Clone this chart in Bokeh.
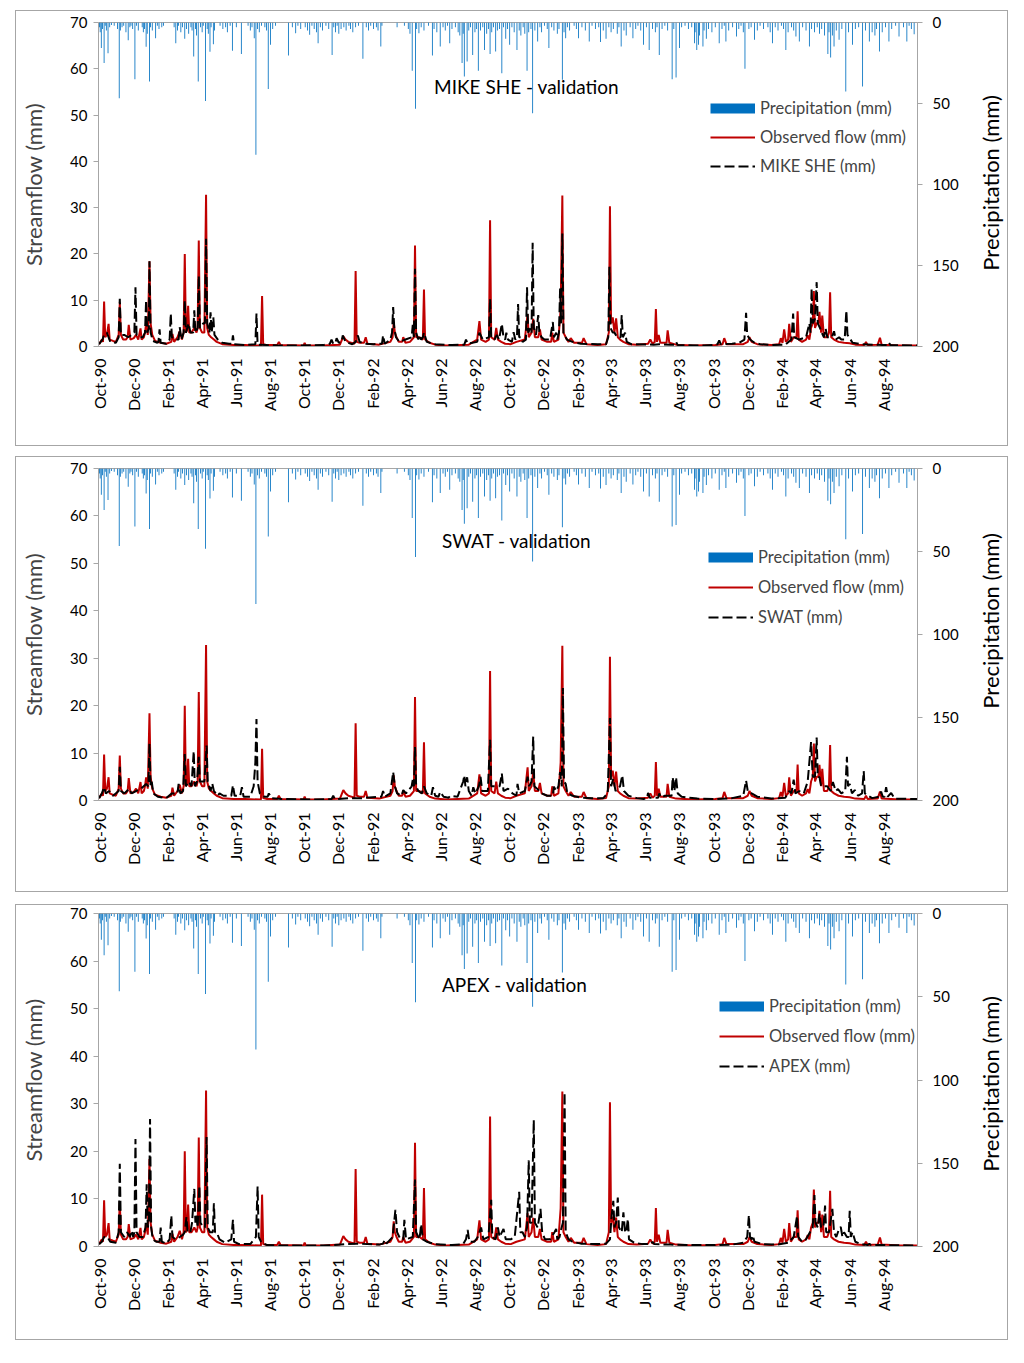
import math
import pandas as pd
from bokeh.plotting import figure
from bokeh.models import Range1d, LinearAxis, FixedTicker, Legend, LegendItem, Label, Spacer
from bokeh.layouts import column, row
from bokeh.embed import file_html
from bokeh.resources import INLINE

FONT = "Lato"
START = pd.Timestamp("1990-10-01")   # day 0 of the daily series

tick_labels = ["Oct-90", "Dec-90", "Feb-91", "Apr-91", "Jun-91", "Aug-91", "Oct-91", "Dec-91",
               "Feb-92", "Apr-92", "Jun-92", "Aug-92", "Oct-92", "Dec-92", "Feb-93", "Apr-93",
               "Jun-93", "Aug-93", "Oct-93", "Dec-93", "Feb-94", "Apr-94", "Jun-94", "Aug-94"]

# (day since 1 Oct 1990, precipitation mm)
precip = [(1,3),(2,6),(4,15.8),(6,4),(9,25),(11,2),(13,5),(16,19),(19,3),(22,1.5),(27,2),(33,4),(36,46.7),(38,5),
 (41,3),(44,2),(48,6),(52,11),(55,3),(57,2),(60,4),(64,35),(67,2),(70,5),(77,3),(79,6),(81,4),(84,15),(86,7),
 (90,36.4),(92,3),(95,5),(101,9.7),(104,2),(107,4),(112,3),(115,2),(134,3),(137,12.8),(140,5),(142,2),(146,6),
 (149,3),(153,10),(156,4),(160,7),(164,3),(166,5),(169,21),(172,4),(174,8),(177,36.4),(181,3),(184,6),(186,2),
 (190,48.4),(193,4),(195,7),(198,18),(200,3),(204,13.4),(206,5),(216,2),(221,4),(226,3),(229,6),(234,2),
 (238,17.5),(245,3),(254,19.5),(266,2),(270,5),(273,3),(277,9.7),(280,81.7),(283,4),(286,6),(290,2),(296,3),
 (299,5),(302,41),(306,13.8),(310,4),(315,2),(338,20.4),(345,3),(351,6.6),(355,2),(360,4),(368,3),(372,5),
 (376,7.6),(380,2),(384,4),(388,6),(391,12.8),(395,3),(399,5),(405,2),(410,4),(416,20),(419,3),(422,6),(425,2),
 (428,7),(432,4),(437,3),(441,5),(446,2),(449,4),(453,6),(458,3),(463,2),(471,22.4),(477,3),(481,5),(485,2),
 (490,4),(495,3),(498,5),(503,14.8),(505,2),(532,3),(545,2),(552,4),(555,7),(559,29.8),(565,53.3),(567,4),
 (571,6.6),(575,3),(580,5),(588,2),(595,20.4),(598,4),(603,6),(609,14.8),(614,3),(618,5),(622,2),(626,12.8),
 (630,4),(636,3),(641,6),(644,8),(648,25),(650,7),(652,33.3),(657,24),(660,5),(663,3),(667,20),(671,6),(674,4),
 (677,29.8),(681,5),(685,3),(688,16.9),(692,7),(695,4),(698,19.5),(701,6),(704,3),(708,17.9),(711,5),(715,4),
 (719,31.3),(722,3),(726,10),(729,4),(733,13.8),(737,3),(741,6),(746,16.9),(750,5),(753,8),(757,3),(760,7),
 (764,29.8),(767,6),(771,4),(774,56),(778,5),(783,11.7),(787,3),(790,6),(795,2),(800,4),(803,15.8),(808,3),
 (812,5),(818,7),(821,4),(827,35.4),(830,6),(833,9.7),(836,3),(840,5),(848,2),(852,4),(856,9.7),(862,3),(868,5),
 (875,11.7),(880,2),(886,4),(892,3),(895,12),(900,5),(905,10),(910,3),(914,6),(918,4),(925,7),(928,3),
 (932,14.8),(937,5),(941,8),(948,3),(953,9.7),(958,4),(962,2),(967,5),(972,13.8),(977,3),(982,16.9),(988,4),
 (993,6),(996,3),(1000,20),(1005,4),(1010,2),(1015,5),(1023,35),(1026,4),(1030,34),(1036,15.8),(1040,3),
 (1046,2),(1052,4),(1058,3),(1063,12.8),(1064,6),(1067,16.9),(1070,13.8),(1072,8),(1078,14.8),(1080,5),
 (1084,10),(1088,4),(1094,6),(1100,3),(1107,12.8),(1112,4),(1116,2),(1119,11.7),(1124,5),(1131,3),(1138,8.6),
 (1142,4),(1146,2),(1150,6),(1153,28.6),(1160,4),(1164,3),(1170,10.7),(1175,5),(1180,2),(1186,4),(1194,3),
 (1198,6),(1202,12.8),(1207,3),(1212,5),(1218,2),(1222,4),(1226,16.9),(1230,6),(1236,3),(1240,5),(1244,8.6),
 (1250,11.7),(1256,3),(1262,5),(1268,14.8),(1272,4),(1277,6),(1282,3),(1286,7),(1290,4),(1295,8),(1301,19.5),
 (1303,6),(1306,21.6),(1309,8),(1312,14.8),(1316,5),(1321,10.7),(1326,4),(1333,42.6),(1338,6),(1345,13.8),
 (1350,4),(1356,3),(1363,39.5),(1368,5),(1375,11.7),(1380,6),(1385,8),(1388,4),(1393,17.9),(1398,6),(1404,3),
 (1410,11.7),(1415,4),(1422,2),(1428,8.6),(1436,3),(1442,11.7),(1446,2),(1450,4),(1455,7.2)]

# (day, observed streamflow mm)
observed = [(0,0.5),(5,1.5),(7,1.0),(9,9.7),(11,2.0),(14,2.5),(17,4.9),(19,1.5),(25,1.2),(30,1.0),(35,2.5),(37,9.5),
 (39,2.5),(43,1.5),(48,1.5),(51,2.0),(53,4.7),(56,1.5),(62,1.8),(66,2.5),(70,1.5),(74,3.9),(76,1.5),(80,2.0),
 (82,3.0),(84,4.9),(87,2.5),(90,18.4),(92,5.0),(95,2.5),(100,1.2),(110,0.8),(120,0.6),(129,1.0),(131,2.7),
 (134,1.0),(140,2.0),(144,3.3),(148,1.5),(151,3.0),(153,20.0),(155,3.0),(157,3.5),(159,8.8),(161,3.0),(165,3.0),
 (170,4.0),(174,3.0),(176,4.0),(178,22.9),(180,4.0),(184,3.0),(188,3.0),(191,32.8),(193,4.0),(196,2.5),(200,2.0),
 (205,1.5),(210,1.0),(220,0.5),(240,0.3),(260,0.3),(289,0.2),(291,10.9),(293,0.5),(300,0.3),(318,0.3),(321,1.0),
 (324,0.3),(365,0.2),(367,0.8),(369,0.2),(400,0.2),(430,0.4),(436,2.2),(440,1.5),(445,1.0),(456,0.6),(458,16.3),
 (460,1.0),(465,0.8),(473,0.8),(476,2.0),(479,0.6),(500,0.4),(520,1.0),(524,2.0),(526,5.3),(528,3.0),(531,2.0),
 (535,1.0),(541,1.0),(543,2.0),(547,0.8),(555,1.0),(562,2.0),(564,21.8),(566,2.0),(572,2.0),(578,1.5),(580,12.3),
 (582,1.5),(590,0.8),(600,0.4),(620,0.2),(660,0.4),(675,1.5),(679,5.5),(682,1.5),(690,1.0),(696,1.5),(698,27.3),
 (700,2.0),(706,1.5),(709,4.0),(712,1.5),(718,1.0),(725,0.6),(735,0.5),(745,1.0),(760,1.5),(765,7.0),(767,2.0),
 (772,3.0),(775,6.0),(778,2.0),(784,2.0),(787,3.7),(790,1.5),(800,1.0),(807,1.0),(809,3.0),(812,1.0),(820,1.5),
 (824,8.0),(827,32.6),(829,3.0),(833,2.0),(838,1.0),(842,1.8),(848,0.8),(862,0.8),(865,1.8),(870,0.5),(890,0.3),
 (905,0.5),(910,3.0),(912,30.3),(914,5.0),(917,6.3),(920,3.0),(923,6.1),(926,2.0),(930,1.5),(936,1.0),(945,0.5),
 (960,0.4),(980,0.6),(984,1.5),(988,0.6),(992,1.0),(994,8.1),(996,1.0),(999,2.5),(1002,0.8),(1013,0.8),
 (1015,3.5),(1018,0.8),(1030,0.4),(1060,0.2),(1100,0.3),(1113,0.5),(1116,1.8),(1120,0.5),(1150,0.5),(1158,1.0),
 (1161,2.0),(1165,1.0),(1175,0.5),(1200,0.3),(1214,0.5),(1217,1.8),(1220,0.8),(1223,3.7),(1226,1.0),(1230,1.5),
 (1232,4.9),(1235,1.0),(1240,2.0),(1245,2.0),(1247,7.6),(1249,1.5),(1255,1.0),(1262,1.5),(1265,2.4),(1268,1.5),
 (1271,4.0),(1274,5.0),(1276,12.0),(1278,4.0),(1281,5.0),(1284,5.0),(1286,7.5),(1289,3.0),(1291,6.7),(1294,2.0),
 (1300,2.0),(1303,3.0),(1305,11.7),(1307,2.0),(1312,1.5),(1320,1.0),(1330,0.8),(1340,0.7),(1350,0.4),(1366,0.3),
 (1369,1.0),(1372,0.3),(1390,0.4),(1394,1.9),(1397,0.4),(1430,0.2),(1460,0.2)]

# (day, simulated streamflow mm)
mike_she = [(0,0.5),(6,1.5),(9,2.5),(14,3.0),(20,1.0),(30,0.8),(35,2.0),(37,10.3),(39,2.5),(45,2.5),(52,2.0),
 (58,2.5),(63,3.0),(65,12.8),(67,2.5),(72,2.0),(78,2.0),(82,3.0),(84,10.0),(86,3.0),(89,4.0),(90,18.4),(92,3.0),
 (96,1.2),(104,0.8),(106,1.0),(108,3.7),(110,0.8),(120,0.6),(126,1.5),(128,7.1),(130,2.0),(136,1.5),(142,1.5),
 (144,4.2),(147,1.5),(151,3.0),(153,10.0),(155,3.0),(160,5.0),(163,3.0),(168,3.0),(170,7.8),(172,3.0),(176,4.0),
 (178,15.3),(180,4.0),(186,5.0),(189,5.0),(191,23.3),(193,5.0),(197,3.0),(199,7.4),(201,3.0),(204,6.3),(206,2.5),
 (212,1.5),(220,0.8),(232,0.6),(237,0.6),(239,2.4),(241,0.5),(260,0.3),(279,0.5),(281,7.1),(283,0.4),(300,0.3),
 (320,0.2),(360,0.2),(400,0.3),(412,0.6),(415,1.5),(418,0.6),(422,0.8),(424,1.8),(428,0.8),(433,1.0),(435,2.4),
 (440,1.0),(452,0.5),(458,1.0),(462,2.4),(465,1.0),(475,0.6),(490,0.5),(505,0.6),(507,2.4),(510,0.6),(520,1.5),
 (523,3.0),(525,8.5),(527,4.0),(530,2.0),(536,1.0),(547,1.5),(558,2.0),(560,4.7),(562,2.0),(564,16.8),(566,3.0),
 (570,1.5),(572,2.5),(575,1.5),(578,2.0),(580,3.0),(585,1.0),(600,0.5),(630,0.3),(652,0.4),(655,1.5),(658,0.6),
 (675,1.0),(679,3.0),(685,1.5),(696,2.0),(698,10.3),(700,2.0),(706,1.5),(710,2.5),(714,1.5),(719,4.9),(722,2.0),
 (725,1.5),(727,3.0),(730,1.5),(737,1.0),(740,3.1),(743,1.5),(746,2.0),(748,9.2),(750,2.0),(753,2.0),(756,1.0),
 (762,1.5),(764,12.8),(766,3.0),(770,4.0),(772,3.0),(774,22.4),(776,4.0),(780,2.5),(784,6.8),(786,3.0),(790,2.0),
 (795,1.5),(805,1.5),(810,5.3),(812,2.0),(816,3.0),(818,1.5),(821,3.0),(823,12.5),(825,5.0),(827,24.4),(829,3.0),
 (835,1.5),(845,1.0),(860,0.6),(890,0.5),(905,0.5),(909,2.0),(911,17.2),(913,4.0),(917,3.0),(920,3.0),(925,2.0),
 (931,2.0),(933,6.8),(935,2.0),(939,3.0),(942,1.0),(950,0.5),(990,0.4),(1000,0.5),(1020,0.4),(1027,0.4),
 (1030,1.0),(1033,0.3),(1080,0.2),(1095,0.3),(1104,0.5),(1107,1.3),(1110,0.5),(1130,0.6),(1143,0.8),(1152,1.5),
 (1155,7.3),(1157,2.5),(1162,1.5),(1170,0.8),(1180,0.5),(1200,0.3),(1225,0.4),(1236,1.5),(1239,7.1),(1241,2.0),
 (1250,1.5),(1262,2.0),(1268,5.0),(1270,3.0),(1272,12.6),(1274,5.0),(1278,6.0),(1281,13.9),(1283,5.0),(1287,4.0),
 (1290,3.0),(1294,2.0),(1297,3.9),(1300,2.0),(1305,2.0),(1308,2.0),(1312,3.3),(1315,1.5),(1321,2.0),(1325,1.5),
 (1331,1.5),(1334,7.8),(1336,2.5),(1339,2.0),(1345,0.8),(1360,0.5),(1400,0.3),(1408,0.3),(1410,0.8),(1413,0.3),
 (1460,0.2)]

swat = [(0,0.5),(5,1.5),(9,2.8),(12,1.5),(18,2.0),(25,1.0),(35,2.0),(37,7.1),(39,2.0),(45,1.5),(54,2.5),(58,1.5),
 (66,2.0),(75,2.5),(84,3.5),(88,3.0),(90,12.0),(92,3.0),(94,4.0),(97,1.5),(105,0.8),(120,0.5),(130,1.5),(140,1.5),
 (142,3.5),(145,1.5),(150,2.0),(153,9.8),(155,3.0),(160,4.0),(165,3.0),(169,10.4),(171,3.0),(175,4.0),(178,9.2),
 (180,4.0),(188,4.0),(192,11.6),(194,4.0),(199,2.0),(202,3.6),(205,2.0),(212,1.0),(215,1.5),(222,1.0),(236,1.0),
 (239,3.2),(242,1.0),(252,1.0),(255,2.8),(258,0.8),(270,0.8),(276,3.0),(279,8.0),(281,17.2),(283,4.0),(287,1.5),
 (295,0.8),(301,0.8),(303,1.5),(308,0.5),(330,0.3),(380,0.2),(415,0.3),(418,1.0),(421,0.3),(450,0.5),(470,0.5),
 (504,0.8),(507,2.0),(510,0.8),(520,1.5),(525,6.0),(528,3.0),(532,1.5),(540,1.0),(543,2.2),(548,1.5),(558,3.0),
 (560,4.4),(562,3.0),(564,11.3),(566,3.0),(570,2.0),(576,1.5),(580,3.0),(585,1.5),(593,1.0),(596,2.8),(600,1.0),
 (606,0.8),(609,1.8),(615,0.8),(624,0.6),(627,1.0),(640,0.8),(650,4.0),(652,5.3),(654,3.0),(657,4.9),(660,2.0),
 (665,1.0),(668,2.8),(672,1.5),(678,3.0),(681,5.0),(684,2.0),(694,2.0),(698,12.8),(700,3.0),(708,3.0),(715,3.0),
 (719,5.7),(722,2.0),(730,2.5),(738,1.5),(745,1.0),(747,3.5),(750,1.5),(760,2.0),(765,5.0),(768,3.0),(772,4.0),
 (775,13.5),(777,3.0),(782,2.5),(790,1.5),(800,1.0),(810,1.0),(812,2.9),(816,2.0),(820,3.0),(823,6.0),(826,3.0),
 (828,23.7),(830,4.0),(833,3.5),(836,1.5),(845,1.0),(860,0.6),(880,0.5),(900,0.5),(908,1.5),(912,17.4),(914,3.0),
 (918,4.6),(922,2.0),(930,3.0),(934,5.3),(937,2.0),(945,1.0),(960,0.5),(972,0.3),(978,0.5),(980,1.6),(983,0.6),
 (998,0.6),(1000,1.5),(1003,0.6),(1010,1.0),(1022,1.0),(1024,4.9),(1027,2.0),(1030,4.9),(1033,1.5),(1040,0.8),
 (1068,0.4),(1100,0.3),(1130,0.5),(1150,1.0),(1155,4.2),(1158,2.0),(1165,1.5),(1175,0.8),(1200,0.4),(1225,0.6),
 (1232,2.0),(1236,1.5),(1240,4.4),(1243,1.5),(1250,2.0),(1258,1.5),(1265,4.0),(1271,12.3),(1274,5.0),(1278,5.0),
 (1281,13.3),(1283,5.0),(1286,4.9),(1289,3.0),(1293,3.0),(1300,3.0),(1306,2.0),(1310,3.9),(1315,2.0),(1319,2.4),
 (1325,1.5),(1332,2.0),(1335,9.2),(1337,3.0),(1340,3.5),(1344,1.5),(1349,2.2),(1355,1.0),(1362,1.5),(1365,6.2),
 (1367,1.5),(1373,1.0),(1380,0.5),(1393,0.8),(1396,1.9),(1399,0.8),(1402,0.8),(1405,2.8),(1408,0.8),(1414,1.6),
 (1420,0.4),(1460,0.3)]

apex = [(0,0.5),(5,1.0),(9,2.0),(15,2.0),(20,1.0),(30,0.8),(35,3.0),(37,17.4),(39,3.0),(45,2.0),(50,3.0),(55,2.0),
 (58,3.3),(61,2.0),(63,3.0),(65,22.6),(67,3.0),(72,2.0),(78,2.0),(83,4.0),(85,13.1),(87,4.0),(89,5.0),(91,26.8),
 (93,4.0),(96,1.5),(102,1.0),(108,1.0),(110,4.0),(112,1.0),(120,0.6),(126,1.5),(129,6.5),(131,2.0),(137,1.5),
 (144,2.0),(150,2.5),(153,3.0),(156,6.2),(158,3.0),(163,3.0),(166,5.0),(170,12.1),(172,5.0),(174,6.5),(176,4.0),
 (179,12.8),(181,5.0),(186,4.0),(189,4.0),(192,23.0),(194,4.0),(198,3.0),(203,3.0),(205,9.1),(207,3.0),(210,3.0),
 (215,1.5),(225,0.8),(236,1.5),(239,5.6),(241,1.0),(250,0.5),(270,0.5),(280,2.0),(283,12.6),(285,2.0),(290,0.8),
 (300,0.3),(330,0.2),(400,0.2),(420,0.3),(440,0.5),(460,0.6),(500,0.4),(507,0.6),(510,1.4),(513,0.6),(524,2.0),
 (529,7.7),(532,3.0),(538,1.5),(543,1.5),(545,5.6),(548,1.5),(560,2.0),(564,14.1),(566,3.0),(572,1.5),(575,4.7),
 (578,1.5),(585,1.0),(600,0.5),(630,0.3),(650,0.5),(655,1.5),(658,3.5),(661,1.0),(670,1.0),(676,2.0),(682,4.0),
 (686,1.5),(695,2.0),(700,9.8),(702,2.0),(708,1.5),(712,4.0),(715,2.0),(722,3.7),(726,1.5),(735,1.5),(742,2.0),
 (750,11.5),(752,3.0),(756,3.0),(760,2.0),(764,4.0),(767,18.1),(769,5.0),(772,5.0),(776,26.6),(778,5.0),(783,4.0),
 (788,7.9),(791,3.0),(796,1.5),(805,1.5),(813,3.0),(816,3.7),(818,1.5),(822,2.0),(825,3.7),(828,5.0),(831,32.4),
 (833,3.0),(838,1.5),(845,1.0),(860,0.6),(890,0.5),(905,0.6),(912,1.5),(915,6.5),(918,9.6),(920,4.0),(923,5.0),
 (926,10.3),(928,4.0),(933,3.0),(936,7.2),(939,3.0),(941,3.0),(944,5.8),(946,1.5),(955,0.8),(970,0.5),(985,0.5),
 (988,1.0),(991,0.5),(1020,0.4),(1060,0.3),(1100,0.3),(1130,0.4),(1150,0.8),(1157,2.0),(1160,6.6),(1162,2.0),
 (1165,1.5),(1167,2.3),(1170,1.0),(1185,0.5),(1210,0.4),(1230,0.8),(1240,2.0),(1246,6.4),(1248,2.0),(1255,1.0),
 (1262,1.5),(1269,3.0),(1274,4.0),(1277,10.8),(1279,5.0),(1283,4.0),(1286,6.9),(1289,4.0),(1293,4.0),(1296,8.6),
 (1298,3.0),(1303,3.0),(1309,7.9),(1312,3.0),(1316,2.0),(1321,3.7),(1324,4.1),(1327,2.0),(1330,3.0),(1335,2.0),
 (1338,2.0),(1340,7.5),(1342,2.0),(1345,3.0),(1350,1.0),(1360,0.5),(1372,0.3),(1375,0.6),(1378,0.3),(1400,0.3),
 (1460,0.2)]

tick_days = [(pd.to_datetime(l, format="%b-%y") - START).days for l in tick_labels]
precip_day = [d for d, _ in precip]
precip_mm = [v for _, v in precip]
obs_day = [d for d, _ in observed]
obs_q = [v for _, v in observed]

GREY = "#a6a6a6"
H = 434


def make_panel(model, sim, top, bottom, title_pos, leg_loc, leg_spacing, rlabel_y):
    p = figure(width=954, height=H, x_range=Range1d(-1, 1461), y_range=Range1d(0, 70),
               output_backend="svg", toolbar_location=None,
               min_border_left=82, min_border_right=53, min_border_top=top, min_border_bottom=bottom)
    p.xgrid.visible = False
    p.ygrid.visible = False
    p.outline_line_color = GREY
    p.outline_line_width = 1
    p.extra_y_ranges = {"precip": Range1d(200, 0)}

    xa = p.xaxis[0]
    xa.ticker = FixedTicker(ticks=tick_days)
    xa.major_label_overrides = {d: l for d, l in zip(tick_days, tick_labels)}
    xa.major_label_orientation = math.pi / 2
    xa.major_tick_line_color = None
    xa.major_tick_out = 0
    xa.major_tick_in = 0
    xa.minor_tick_line_color = None
    xa.axis_line_color = GREY
    xa.major_label_standoff = 12
    xa.major_label_text_font = FONT
    xa.major_label_text_font_size = "16px"
    xa.major_label_text_color = "black"

    ya = p.yaxis[0]
    ya.ticker = FixedTicker(ticks=[0, 10, 20, 30, 40, 50, 60, 70])
    ya.minor_tick_line_color = None
    ya.major_tick_in = 0
    ya.major_tick_out = 5
    ya.major_tick_line_color = GREY
    ya.axis_line_color = GREY
    ya.major_label_standoff = 6
    ya.major_label_text_font = FONT
    ya.major_label_text_font_size = "15px"
    ya.major_label_text_color = "black"
    ya.axis_label = "Streamflow (mm)"
    ya.axis_label_text_font = FONT
    ya.axis_label_text_font_size = "22px"
    ya.axis_label_text_font_style = "normal"
    ya.axis_label_standoff = 20

    ra = LinearAxis(y_range_name="precip", ticker=FixedTicker(ticks=[0, 50, 100, 150, 200]))
    ra.minor_tick_line_color = None
    ra.major_tick_in = 0
    ra.major_tick_out = 5
    ra.major_tick_line_color = GREY
    ra.axis_line_color = GREY
    ra.major_label_standoff = 10
    ra.major_label_text_font = FONT
    ra.major_label_text_font_size = "15px"
    ra.major_label_text_color = "black"
    p.add_layout(ra, "right")

    p.vbar(x=precip_day, top=precip_mm, bottom=0, width=1.5, y_range_name="precip",
           fill_color="#0070C0", line_color=None)
    r_obs = p.line(obs_day, obs_q, line_color="#C00000", line_width=2)
    r_sim = p.line([d for d, _ in sim], [v for _, v in sim], line_color="black",
                   line_width=2, line_dash="10 4")
    # legend swatch for precipitation (hidden line over the same data)
    r_pr = p.line(precip_day, precip_mm, y_range_name="precip", line_color="#0070C0",
                  line_width=10, visible=False)

    leg = Legend(items=[LegendItem(label="Precipitation (mm)", renderers=[r_pr]),
                        LegendItem(label="Observed flow (mm)", renderers=[r_obs]),
                        LegendItem(label=f"{model} (mm)", renderers=[r_sim])],
                 location=leg_loc, padding=0, margin=0, spacing=leg_spacing,
                 glyph_width=45, glyph_height=20, label_height=20, label_standoff=5,
                 border_line_color=None, background_fill_alpha=0,
                 label_text_font=FONT, label_text_font_size="16.5px")
    p.add_layout(leg)

    p.add_layout(Label(x=title_pos[0], y=title_pos[1], text=f"{model} - validation",
                       text_font=FONT, text_font_size="19px", text_baseline="middle",
                       text_align="left", text_color="black"))

    # strip to the right of the secondary axis carrying its title (reads bottom-to-top)
    lab = figure(width=37, height=H, x_range=Range1d(0, 1), y_range=Range1d(0, 1),
                 output_backend="svg", toolbar_location=None, min_border=0,
                 x_axis_type=None, y_axis_type=None)
    lab.outline_line_color = None
    lab.add_layout(Label(x=0.54, y=rlabel_y, text="Precipitation (mm)", angle=math.pi / 2,
                         text_align="center", text_baseline="middle", text_font=FONT,
                         text_font_size="22px", text_color="black"))

    return row(p, lab, spacing=0,
               styles={"border": "1px solid #a6a6a6", "margin-left": "15px"})


r1 = make_panel("MIKE SHE", mike_she, 11, 99, (598, 56.2), (612, 170), 9, 0.505)
r2 = make_panel("SWAT", swat, 11, 91, (612, 54.8), (610, 173), 10, 0.541)
r3 = make_panel("APEX", apex, 8, 93, (612, 55.1), (621, 170), 10, 0.488)

layout = column(Spacer(height=10), r1, Spacer(height=10), r2, Spacer(height=12), r3, spacing=0)
open("out.html", "w").write(file_html(layout, INLINE))
